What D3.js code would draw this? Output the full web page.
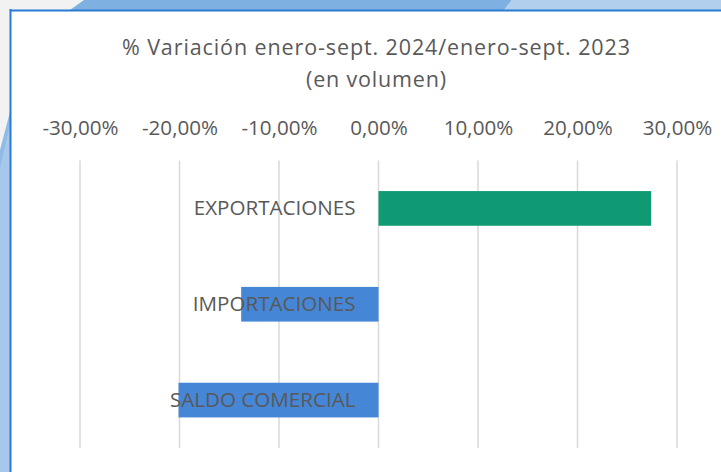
<!DOCTYPE html>
<html>
<head>
<meta charset="utf-8">
<script src="https://cdn.jsdelivr.net/npm/d3@7"></script>
<style>
  html, body { margin: 0; padding: 0; background: #f2f2f2; }
  svg { display: block; }
  text { font-family: "Open Sans", sans-serif; fill: #595959; }
</style>
</head>
<body>
<svg id="chart" width="721" height="472"></svg>
<script>
const categories = ["EXPORTACIONES", "IMPORTACIONES", "SALDO COMERCIAL"];
const values = [27.4, -13.8, -20.1];
const tickValues = [-30, -20, -10, 0, 10, 20, 30];
const titleLines = ["% Variación enero-sept. 2024/enero-sept. 2023", "(en volumen)"];
const barColors = ["#0f9a74", "#4586d6", "#4586d6"];

const svg = d3.select("#chart");
const W = 721, H = 472;

// decorative background
svg.append("rect").attr("width", W).attr("height", H).attr("fill", "#f2f2f2");
svg.append("polygon").attr("points", "70,10 84,0 512,0 504,10").attr("fill", "#7eb0e1");
svg.append("polygon").attr("points", "504,10 512,0 721,0 721,10").attr("fill", "#b2d0ee");
svg.append("polygon").attr("points", "0,160 10,112 10,472 0,472").attr("fill", "#a7c8ea");
svg.append("polygon").attr("points", "0,150 10,112 10,125 0,168").attr("fill", "#8fbbe6");

// chart box
svg.append("rect").attr("x", 10).attr("y", 10).attr("width", W).attr("height", H)
  .attr("fill", "#ffffff");
svg.append("line").attr("x1", 10.5).attr("x2", 10.5).attr("y1", 9).attr("y2", H)
  .attr("stroke", "#2a7bd4").attr("stroke-width", 2);
svg.append("line").attr("x1", 10).attr("x2", W).attr("y1", 10.5).attr("y2", 10.5)
  .attr("stroke", "#2a7bd4").attr("stroke-width", 2);

const x = d3.scaleLinear().domain([-30, 30]).range([80, 677]);
const y = d3.scaleBand().domain(categories).range([160.5, 448]).padding(0);
const barH = y.bandwidth() * 0.362;

const fmt = v => d3.format(".2f")(v).replace("−", "-").replace(".", ",") + "%";

// title
svg.append("text").attr("x", 376).attr("y", 55).attr("text-anchor", "middle")
  .attr("textLength", 508).attr("lengthAdjust", "spacing")
  .style("font-size", "21.5px").text(titleLines[0]);
svg.append("text").attr("x", 376).attr("y", 86.5).attr("text-anchor", "middle")
  .attr("textLength", 140).attr("lengthAdjust", "spacing")
  .style("font-size", "21.5px").text(titleLines[1]);

// axis (top) with gridlines
const axis = d3.axisTop(x).tickValues(tickValues).tickFormat(fmt).tickSize(0);
const gAxis = svg.append("g").attr("transform", "translate(0,135)").call(axis);
gAxis.select(".domain").remove();
gAxis.selectAll("text").attr("dy", 0).attr("y", 0)
  .style("font-size", "20.6px").style("font-family", "'Open Sans', sans-serif").attr("fill", "#595959");

svg.append("g").selectAll("line").data(tickValues).join("line")
  .attr("x1", d => x(d)).attr("x2", d => x(d))
  .attr("y1", 160.5).attr("y2", 448)
  .attr("stroke", "#d9d9d9").attr("stroke-width", 1.5);

// bars
svg.append("g").selectAll("rect").data(values).join("rect")
  .attr("x", d => x(Math.min(0, d)))
  .attr("width", d => Math.abs(x(d) - x(0)))
  .attr("y", (d, i) => y(categories[i]) + (y.bandwidth() - barH) / 2)
  .attr("height", barH)
  .attr("fill", (d, i) => barColors[i]);

// category labels
svg.append("g").selectAll("text").data(categories).join("text")
  .attr("x", x(0) - 23)
  .attr("y", d => y(d) + y.bandwidth() / 2 + 7)
  .attr("text-anchor", "end")
  .style("font-size", "20.6px")
  .text(d => d);
</script>
</body>
</html>
